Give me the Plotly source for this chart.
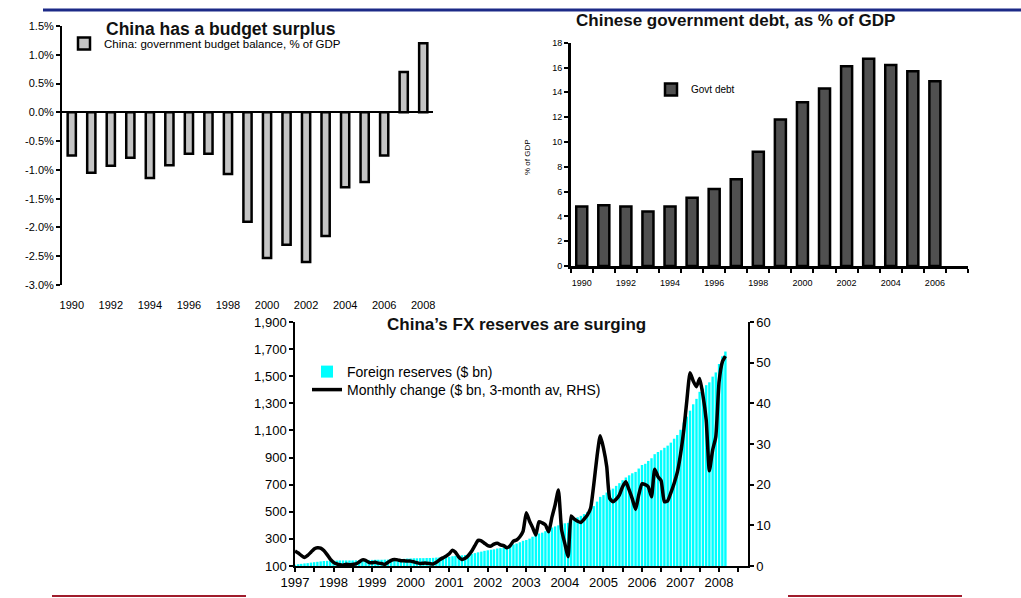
import plotly.graph_objects as go
import pandas as pd

# ---------------- data ----------------
budget_years = list(range(1990, 2009))
budget_balance = [-0.75, -1.05, -0.93, -0.79, -1.14, -0.92, -0.72, -0.72, -1.07, -1.90,
                  -2.53, -2.30, -2.60, -2.15, -1.30, -1.21, -0.75, 0.70, 1.20]

debt_years = list(range(1990, 2007))
govt_debt = [4.8, 4.9, 4.8, 4.4, 4.8, 5.5, 6.2, 7.0, 9.2, 11.8, 13.2, 14.3, 16.1, 16.7,
             16.2, 15.7, 14.9]

fx_start = "1997-01-01"
fx_reserves = [
    110, 113, 116, 119, 121, 125, 128, 131, 134, 137, 138, 140,      # 1997
    140, 140, 141, 141, 141, 141, 141, 142, 142, 142, 143, 145,      # 1998
    145, 146, 146, 146, 147, 147, 148, 149, 150, 152, 153, 155,      # 1999
    156, 157, 157, 158, 158, 159, 159, 160, 162, 163, 164, 166,      # 2000
    168, 172, 175, 177, 179, 181, 184, 189, 195, 201, 206, 212,      # 2001
    216, 220, 223, 229, 232, 237, 242, 248, 259, 266, 275, 286,      # 2002
    292, 302, 316, 326, 340, 346, 357, 365, 384, 392, 400, 403,      # 2003
    415, 418, 440, 449, 459, 470, 483, 499, 514, 542, 575, 610,      # 2004
    623, 642, 659, 671, 691, 711, 733, 753, 769, 784, 794, 819,      # 2005
    845, 854, 875, 895, 925, 941, 954, 972, 988, 1010, 1039, 1066,   # 2006
    1105, 1158, 1202, 1246, 1293, 1333, 1385, 1409, 1434, 1455, 1497, 1528,  # 2007
    1590, 1647, 1682,                                                 # 2008
]
fx_change = [
    3.7, 3.2, 2.6, 2.1, 2.6, 3.4, 4.2, 4.5, 4.4, 3.8, 2.8, 1.7,      # 1997
    0.9, 0.5, 0.3, 0.2, 0.4, 0.3, 0.4, 0.5, 1.0, 1.5, 1.4, 0.9,      # 1998
    0.8, 0.9, 0.7, 0.6, 0.4, 0.9, 1.4, 1.6, 1.5, 1.3, 1.3, 1.2,      # 1999
    1.2, 1.0, 0.8, 0.6, 0.7, 0.7, 0.6, 0.5, 0.9, 1.5, 2.0, 2.4,      # 2000
    3.0, 3.9, 3.4, 2.2, 1.6, 1.9, 2.6, 3.6, 5.0, 6.3, 6.2, 5.6,      # 2001
    5.0, 4.9, 5.4, 5.6, 5.2, 5.0, 4.5, 5.0, 6.1, 6.4, 7.2, 8.5,      # 2002
    13.1, 11.0, 9.5, 7.6, 10.9, 10.6, 10.1, 8.4, 12.0, 15.0, 18.7, 9.0,  # 2003
    5.5, 2.3, 12.3, 11.5, 11.0, 10.7, 11.5, 12.5, 14.2, 20.0, 27.0, 32.0,  # 2004
    29.0, 24.4, 16.6, 15.8, 16.4, 17.5, 19.5, 20.7, 18.7, 16.5, 13.9, 17.5,  # 2005
    20.2, 20.0, 19.5, 17.0, 23.8, 22.0, 21.0, 15.8, 16.0, 18.0, 20.3, 23.0,  # 2006
    27.5, 33.5, 40.5, 47.5, 45.5, 44.1, 46.1, 42.0, 35.9, 23.4, 28.5, 31.8,  # 2007
    45.3, 50.2, 51.6,                                                  # 2008
]
fx_months = pd.date_range(fx_start, periods=len(fx_reserves), freq="MS")

# ---------------- figure ----------------
W, H = 1021, 598
def px_x(p): return p / W
def px_y(p): return 1 - p / H

FONT = "Liberation Sans, Arial, sans-serif"
NARROW = "Liberation Sans Narrow, Arial Narrow, Liberation Sans, Arial, sans-serif"
CLEAR = "rgba(0,0,0,0)"

fig = go.Figure()

fig.add_trace(go.Bar(
    x=budget_years, y=budget_balance,
    name="China: government budget balance, % of GDP",
    marker=dict(color="#c4c4c4", line=dict(color="black", width=2.5)),
    width=0.42, xaxis="x", yaxis="y", legend="legend"))

fig.add_trace(go.Bar(
    x=debt_years, y=govt_debt, name="Govt debt",
    marker=dict(color="#505050", line=dict(color="black", width=2.5)),
    width=0.5, xaxis="x2", yaxis="y2", legend="legend2"))

fig.add_trace(go.Bar(
    x=fx_months, y=fx_reserves, name="Foreign reserves ($ bn)",
    marker=dict(color="#00ffff", line=dict(width=0)),
    width=0.75 * 30.4 * 86400000, xaxis="x4", yaxis="y4", legend="legend3"))

fig.add_trace(go.Scatter(
    x=fx_months, y=fx_change, name="Monthly change ($ bn, 3-month av, RHS)",
    mode="lines", line=dict(color="black", width=3.5, shape="spline", smoothing=0.5),
    xaxis="x4", yaxis="y5", legend="legend4"))

# ---- axes: top-left chart ----
y1_dom = [px_y(285), px_y(26)]
bb_ticks = [-3.0, -2.5, -2.0, -1.5, -1.0, -0.5, 0.0, 0.5, 1.0, 1.5]
zero_pos = y1_dom[0] + (3.0 / 4.5) * (y1_dom[1] - y1_dom[0])

axis_common = dict(showgrid=False, zeroline=False, color="black")

fig.update_layout(
    xaxis=dict(domain=[px_x(62), px_x(433)], anchor="y", range=[1989.5, 2008.5],
               tickmode="array", tickvals=budget_years[::2],
               ticks="outside", ticklen=10, tickcolor=CLEAR, showline=False,
               tickfont=dict(family=NARROW, size=11, color="black"), **axis_common),
    yaxis=dict(domain=y1_dom, anchor="x", range=[-3.0, 1.5], tickmode="array",
               tickvals=bb_ticks, ticktext=[f"{v:.1f}%" for v in bb_ticks],
               showline=True, linecolor="black", linewidth=2, ticks="outside",
               ticklen=4, tickwidth=2, tickcolor="black",
               tickfont=dict(family=NARROW, size=11, color="black"),
               showgrid=False, zeroline=True, zerolinecolor="black", zerolinewidth=2),
    xaxis3=dict(overlaying="x", anchor="free", position=zero_pos, side="bottom",
                range=[1989.5, 2008.5], tickmode="array",
                tickvals=[y + 0.5 for y in budget_years[1:-1:2]],
                ticks="outside", ticklen=4, tickwidth=2, tickcolor="black",
                showticklabels=False, showline=False, **axis_common),
)

# ---- axes: top-right chart ----
fig.update_layout(
    xaxis2=dict(domain=[px_x(570.7), px_x(968)], anchor="y2", range=[1989.5, 2007.5],
                tickmode="array", tickvals=debt_years[::2],
                ticks="outside", ticklen=6, tickcolor=CLEAR,
                showline=True, linecolor="black", linewidth=2.5,
                minor=dict(tickmode="array", tickvals=[1989.5 + i for i in range(19)],
                           ticks="outside", ticklen=4, tickwidth=2, tickcolor="black"),
                tickfont=dict(family=FONT, size=9, color="black"), **axis_common),
    yaxis2=dict(domain=[px_y(266), px_y(42.7)], anchor="x2", range=[0, 18],
                tickmode="linear", tick0=0, dtick=2,
                showline=True, linecolor="black", linewidth=2.5, ticks="outside",
                ticklen=4, tickwidth=2, tickcolor="black",
                tickfont=dict(family=FONT, size=9, color="black"), **axis_common),
)

# ---- axes: bottom chart ----
half_years = pd.date_range("1997-01-01", "2008-07-01", freq="6MS")
half_text = [str(d.year) if d.month == 1 else "" for d in half_years]
left_ticks = list(range(100, 2000, 200))
fig.update_layout(
    xaxis4=dict(type="date", domain=[px_x(295), px_x(748)], anchor="y4",
                range=["1997-01-01", "2008-10-01"], tickmode="array",
                tickvals=list(half_years), ticktext=half_text,
                ticks="outside", ticklen=4, tickwidth=1.5, tickcolor="black",
                showline=True, linecolor="black", linewidth=1.5,
                tickfont=dict(family=NARROW, size=13, color="black"), **axis_common),
    yaxis4=dict(domain=[px_y(566), px_y(322)], anchor="x4", range=[100, 1900],
                tickmode="array", tickvals=left_ticks,
                ticktext=[f"{v:,}" for v in left_ticks],
                showline=True, linecolor="black", linewidth=1.5, ticks="outside",
                ticklen=4, tickwidth=1.5, tickcolor="black",
                tickfont=dict(family=FONT, size=13, color="black"), **axis_common),
    yaxis5=dict(overlaying="y4", anchor="x4", side="right", range=[0, 60],
                tickmode="linear", tick0=0, dtick=10,
                showline=True, linecolor="black", linewidth=1.5, ticks="outside",
                ticklen=4, tickwidth=1.5, tickcolor="black",
                tickfont=dict(family=FONT, size=13, color="black"), **axis_common),
)

# ---- legends ----
fig.update_layout(
    legend=dict(x=px_x(64), y=px_y(29), xanchor="left", yanchor="top",
                bgcolor=CLEAR, font=dict(family=NARROW, size=11.5, color="black"),
                itemwidth=30),
    legend2=dict(x=px_x(651), y=px_y(75), xanchor="left", yanchor="top",
                 bgcolor=CLEAR, font=dict(family=FONT, size=10, color="black"),
                 itemwidth=30),
    legend3=dict(x=px_x(307), y=px_y(356), xanchor="left", yanchor="top",
                 bgcolor=CLEAR, font=dict(family=FONT, size=14, color="black"),
                 itemwidth=30),
    legend4=dict(x=px_x(307), y=px_y(374), xanchor="left", yanchor="top",
                 bgcolor=CLEAR, font=dict(family=FONT, size=14, color="black"),
                 itemwidth=30),
)

# ---- titles ----
fig.add_annotation(x=px_x(221), y=px_y(28.5), xref="paper", yref="paper",
                   text="<b>China has a budget surplus</b>", showarrow=False,
                   font=dict(family=FONT, size=17.5, color="#111111"),
                   xanchor="center", yanchor="middle")
fig.add_annotation(x=px_x(735), y=px_y(21), xref="paper", yref="paper",
                   text="<b>Chinese government debt, as % of GDP</b>", showarrow=False,
                   font=dict(family=FONT, size=17, color="#111111"),
                   xanchor="center", yanchor="middle")
fig.add_annotation(x=px_x(516), y=px_y(324), xref="paper", yref="paper",
                   text="<b>China\u2019s FX reserves are surging</b>", showarrow=False,
                   font=dict(family=FONT, size=17, color="#111111"),
                   xanchor="center", yanchor="middle")
fig.add_annotation(x=px_x(528), y=px_y(157), xref="paper", yref="paper",
                   text="% of GDP", showarrow=False, textangle=-90,
                   font=dict(family=FONT, size=8, color="black"),
                   xanchor="center", yanchor="middle")

# ---- decorative rules ----
fig.add_shape(type="line", xref="paper", yref="paper", x0=px_x(43), x1=1.0,
              y0=px_y(10), y1=px_y(10), line=dict(color="#1c2a87", width=3))
fig.add_shape(type="line", xref="paper", yref="paper", x0=px_x(52), x1=px_x(246),
              y0=px_y(596), y1=px_y(596), line=dict(color="#a01c2c", width=2))
fig.add_shape(type="line", xref="paper", yref="paper", x0=px_x(788), x1=px_x(962),
              y0=px_y(596), y1=px_y(596), line=dict(color="#a01c2c", width=2))

fig.update_layout(width=W, height=H,
                  margin=dict(l=0, r=0, t=0, b=0, pad=0, autoexpand=False),
                  paper_bgcolor="white", plot_bgcolor="white", showlegend=True,
                  barmode="overlay", font=dict(family=FONT, color="black"))

fig.write_html("out.html",
               config={"displayModeBar": False},
               post_script="document.body.style.margin='0px';"
                           "document.body.style.overflow='hidden';")
